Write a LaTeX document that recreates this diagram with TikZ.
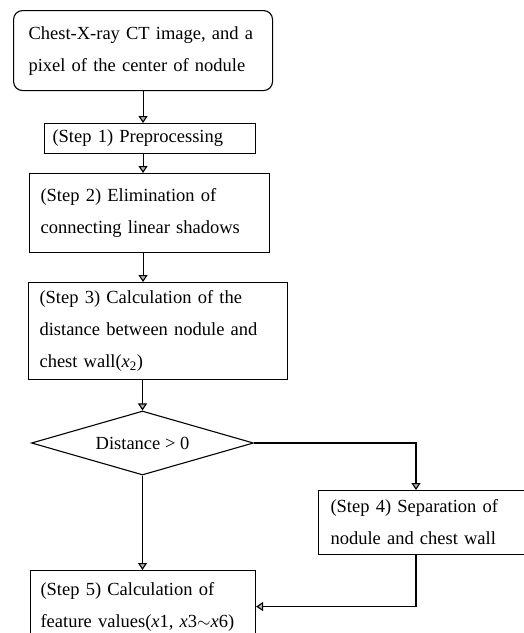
\documentclass[tikz,border=0pt]{standalone}
\usepackage{fontspec}
\setmainfont{Liberation Serif}
\usetikzlibrary{shapes.geometric,arrows.meta}
\tikzset{
  stepbox/.style={draw, line width=1.1pt, rectangle, inner xsep=0pt, inner ysep=0pt, anchor=north west,
    align=left, font=\fontsize{18.5pt}{32pt}\selectfont},
  decision/.style={draw, line width=1.1pt, diamond, aspect=3.47, inner sep=0pt, font=\fontsize{18.5pt}{32pt}\selectfont},
  arr/.style={line width=1.1pt, -{Triangle[length=7pt,width=9pt,fill=gray!60]}}
}
\begin{document}
\begin{tikzpicture}[x=1pt,y=-1pt]
\clip (0,0) rectangle (524,633);
\fill[white] (0,0) rectangle (524,633);
\node[stepbox, rounded corners=9pt, minimum width=259pt, minimum height=80pt, text width=229pt] (start) at (13,10)
  {Chest-X-ray CT image, and a\\pixel of the center of nodule};
\node[stepbox, minimum width=211pt, minimum height=30pt, text width=195pt] (s1) at (44,123)
  {(Step 1) Preprocessing};
\node[stepbox, minimum width=240pt, minimum height=79pt, text width=218pt] (s2) at (29,173)
  {(Step 2) Elimination of\\connecting linear shadows};
\node[stepbox, minimum width=259pt, minimum height=97pt, text width=237pt] (s3) at (28,282)
  {(Step 3) Calculation of the\\distance between nodule and\\chest wall(\textit{x}\textsubscript{2})};
\node[decision, minimum width=222pt, minimum height=64pt] (d) at (142.5,443) {Distance > 0};
\node[stepbox, minimum width=212pt, minimum height=64pt, text width=188pt] (s4) at (318,490)
  {(Step 4) Separation of\\nodule and chest wall};
\node[stepbox, minimum width=225pt, minimum height=72pt, text width=205pt] (s5) at (30,570)
  {(Step 5) Calculation of\\feature values(\textit{x}1, \textit{x}3$\sim$\textit{x}6)};
\coordinate (c4) at (416,443);
\draw[arr] (start.south) -- (start.south |- s1.north);
\draw[arr] (s1.south -| start.south) -- (s2.north -| start.south);
\draw[arr] (s2.south -| start.south) -- (s3.north -| start.south);
\draw[arr] (s3.south -| d.north) -- (d.north);
\draw[arr] (d.south) -- (d.south |- s5.north);
\draw[arr] (d.east) -| (c4 |- s4.north);
\draw[arr] (c4 |- s4.south) |- (s5.east);
\end{tikzpicture}
\end{document}
